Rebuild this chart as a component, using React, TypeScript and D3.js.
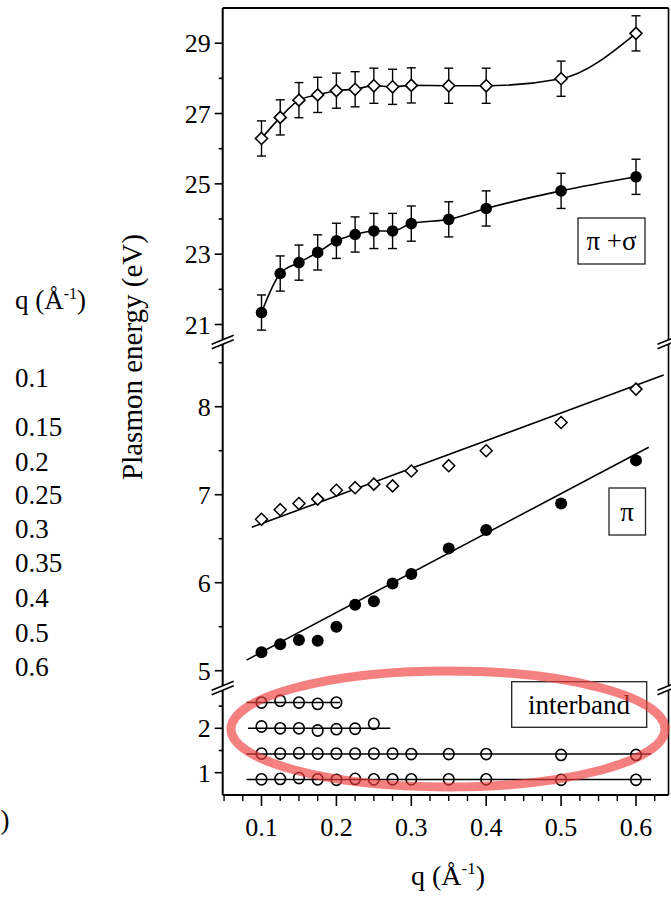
import React from 'react';
import * as d3 from 'd3';

// ---------- data ----------
const qValues = [0.1, 0.125, 0.15, 0.175, 0.2, 0.225, 0.25, 0.275, 0.3, 0.35, 0.4, 0.5, 0.6];
const piSigmaOpen = [26.29, 26.89, 27.38, 27.53, 27.65, 27.69, 27.79, 27.76, 27.8, 27.79, 27.79, 27.99, 29.28];
const piSigmaFilled = [21.34, 22.45, 22.76, 23.05, 23.38, 23.56, 23.66, 23.66, 23.87, 23.99, 24.3, 24.8, 25.2];
const piSigmaErr = 0.5;
const piOpen = [6.72, 6.83, 6.9, 6.95, 7.05, 7.08, 7.12, 7.1, 7.27, 7.33, 7.5, 7.82, 8.2];
const piFilled = [5.21, 5.3, 5.35, 5.34, 5.5, 5.75, 5.79, 5.99, 6.1, 6.39, 6.6, 6.9, 7.39];
const piOpenFitQ = [0.087, 0.637];
const piOpenFitE = [6.63, 8.36];
const piFilledFitQ = [0.08, 0.617];
const piFilledFitE = [5.12, 7.54];

const ib1Q = [0.1, 0.125, 0.15, 0.175, 0.2];
const ib1E = [2.58, 2.62, 2.58, 2.55, 2.58];
const ib2Q = [0.1, 0.125, 0.15, 0.175, 0.2, 0.225, 0.25];
const ib2E = [2.04, 2.0, 2.0, 1.95, 1.98, 1.99, 2.1];
const ib3E = [1.43, 1.43, 1.44, 1.43, 1.43, 1.43, 1.43, 1.43, 1.42, 1.42, 1.42, 1.4, 1.4];
const ib4E = [0.85, 0.86, 0.88, 0.85, 0.84, 0.86, 0.85, 0.85, 0.85, 0.85, 0.85, 0.84, 0.84];
const ibLineQStart = [0.08, 0.082, 0.08, 0.08];
const ibLineQEnd = [0.205, 0.272, 0.62, 0.62];
const ibLineE = [2.58, 2.0, 1.42, 0.845];

const xMajor = [0.1, 0.2, 0.3, 0.4, 0.5, 0.6];
const xTickLabels = ['0.1', '0.2', '0.3', '0.4', '0.5', '0.6'];
const topMajor = [21, 23, 25, 27, 29];
const topMinor = [22, 24, 26, 28];
const midMajor = [5, 6, 7, 8];
const midMinor = [5.5, 6.5, 7.5, 8.5];
const ibMajor = [1, 2];
const ibMinor = [1.5, 2.5];
const sideQLabels = ['0.1', '0.15', '0.2', '0.25', '0.3', '0.35', '0.4', '0.5', '0.6'];

// ---------- layout ----------
const W = 671, H = 897;
const X0 = 222.7, X1 = 668.5, Y0 = 8, Y1 = 795;
const BREAK1 = 342, BREAK2 = 688;
const sideLabelY = [378, 427, 462, 495, 529, 563, 598, 633, 667];
const FONT = "'Liberation Serif', 'Times New Roman', Times, serif";
const TS: React.CSSProperties = { fontFamily: FONT };

const x = d3.scaleLinear().domain([0.1, 0.6]).range([261.5, 636]);
const yTop = d3.scaleLinear().domain([21, 29]).range([324.5, 43.2]);
const yMid = d3.scaleLinear().domain([5, 8]).range([670.7, 406.7]);
const yIb = d3.scaleLinear().domain([1, 2]).range([772.7, 728.3]);

const xMinor = d3.range(0.05, 0.63, 0.025).filter(v => !xMajor.some(m => Math.abs(m - v) < 1e-6));

const diamond = (cx: number, cy: number, r: number) =>
  `M${cx},${cy - r}L${cx + r},${cy}L${cx},${cy + r}L${cx - r},${cy}Z`;

function BreakMark({ cx, cy }: { cx: number; cy: number }) {
  const dx = 11, dy = 4.5, g = 2.2;
  return (
    <g>
      <polygon
        points={`${cx - dx},${cy + dy - g} ${cx + dx},${cy - dy - g} ${cx + dx},${cy - dy + g} ${cx - dx},${cy + dy + g}`}
        fill="#fff"
      />
      <line x1={cx - dx} y1={cy + dy - g} x2={cx + dx} y2={cy - dy - g} stroke="#000" strokeWidth={1.6} />
      <line x1={cx - dx} y1={cy + dy + g} x2={cx + dx} y2={cy - dy + g} stroke="#000" strokeWidth={1.6} />
    </g>
  );
}

export default function App() {
  const curve = d3.line<[number, number]>().curve(d3.curveMonotoneX);
  const topOpenPath = curve(qValues.map((q, i) => [x(q), yTop(piSigmaOpen[i])]));
  const topFilledPath = curve(qValues.map((q, i) => [x(q), yTop(piSigmaFilled[i])]));

  const yTicks: { y: number; major: boolean; label?: string }[] = [
    ...topMajor.map(v => ({ y: yTop(v), major: true, label: String(v) })),
    ...topMinor.map(v => ({ y: yTop(v), major: false })),
    ...midMajor.map(v => ({ y: yMid(v), major: true, label: String(v) })),
    ...midMinor.map(v => ({ y: yMid(v), major: false })),
    ...ibMajor.map(v => ({ y: yIb(v), major: true, label: String(v) })),
    ...ibMinor.map(v => ({ y: yIb(v), major: false })),
  ];

  const ibRows = [
    { q: ib1Q, e: ib1E },
    { q: ib2Q, e: ib2E },
    { q: qValues, e: ib3E },
    { q: qValues, e: ib4E },
  ];

  return (
    <svg width={W} height={H} style={{ position: 'absolute', left: 0, top: 0, background: '#fff', fontFamily: FONT }}>
      <rect x={0} y={0} width={W} height={H} fill="#fff" />

      {/* stray left column */}
      <text style={TS} x={15} y={309} fontSize={27}>q (Å<tspan dy={-10} fontSize={16}>-1</tspan><tspan dy={10}>)</tspan></text>
      {sideQLabels.map((t, i) => (
        <text style={TS} key={t} x={15} y={sideLabelY[i] + 9} fontSize={27}>{t}</text>
      ))}
      <text style={TS} x={0.5} y={829} fontSize={27}>)</text>

      {/* y title */}
      <text style={TS} transform={`translate(142,357) rotate(-90)`} textAnchor="middle" fontSize={29}>Plasmon energy (eV)</text>

      {/* frame */}
      <line x1={X0} y1={Y0} x2={X1} y2={Y0} stroke="#000" strokeWidth={2} />
      <line x1={X0} y1={Y0} x2={X0} y2={Y1} stroke="#000" strokeWidth={2} />
      <line x1={X1} y1={Y0} x2={X1} y2={Y1} stroke="#000" strokeWidth={1.6} />
      <line x1={X0} y1={Y1} x2={X1} y2={Y1} stroke="#000" strokeWidth={2} />

      {/* y ticks */}
      {yTicks.map((t, i) => (
        <g key={i}>
          <line x1={X0 - (t.major ? 8 : 4)} x2={X0} y1={t.y} y2={t.y} stroke="#000" strokeWidth={1.6} />
          {t.label && (
            <text style={TS} x={X0 - 12} y={t.y} dy="0.35em" textAnchor="end" fontSize={26}>{t.label}</text>
          )}
        </g>
      ))}

      {/* x ticks */}
      {xMajor.map((v, i) => (
        <g key={v}>
          <line x1={x(v)} x2={x(v)} y1={Y1} y2={Y1 + 11} stroke="#000" strokeWidth={1.6} />
          <text style={TS} x={x(v)} y={836} textAnchor="middle" fontSize={26}>{xTickLabels[i]}</text>
        </g>
      ))}
      {xMinor.map(v => (
        <line key={v} x1={x(v)} x2={x(v)} y1={Y1} y2={Y1 + 6} stroke="#000" strokeWidth={1.4} />
      ))}

      {/* x title */}
      <text style={TS} x={448} y={885} textAnchor="middle" fontSize={28}>q (Å<tspan dy={-11} fontSize={17}>-1</tspan><tspan dy={11}>)</tspan></text>

      {/* break marks */}
      <BreakMark cx={X0} cy={BREAK1} />
      <BreakMark cx={X0} cy={BREAK2} />
      <BreakMark cx={X1} cy={BREAK1} />
      <BreakMark cx={X1} cy={BREAK2} />

      {/* top panel (pi + sigma) */}
      <path d={topOpenPath || ''} fill="none" stroke="#000" strokeWidth={1.6} />
      <path d={topFilledPath || ''} fill="none" stroke="#000" strokeWidth={1.6} />
      {qValues.map((q, i) => (
        <g key={'eb' + q} stroke="#000" strokeWidth={1.4}>
          {[piSigmaOpen[i], piSigmaFilled[i]].map((e, j) => (
            <g key={j}>
              <line x1={x(q)} x2={x(q)} y1={yTop(e - piSigmaErr)} y2={yTop(e + piSigmaErr)} />
              <line x1={x(q) - 4.5} x2={x(q) + 4.5} y1={yTop(e - piSigmaErr)} y2={yTop(e - piSigmaErr)} />
              <line x1={x(q) - 4.5} x2={x(q) + 4.5} y1={yTop(e + piSigmaErr)} y2={yTop(e + piSigmaErr)} />
            </g>
          ))}
        </g>
      ))}
      {qValues.map((q, i) => (
        <path key={'to' + q} d={diamond(x(q), yTop(piSigmaOpen[i]), 6)} fill="#fff" stroke="#000" strokeWidth={1.6} />
      ))}
      {qValues.map((q, i) => (
        <circle key={'tf' + q} cx={x(q)} cy={yTop(piSigmaFilled[i])} r={5.8} fill="#000" />
      ))}
      <rect x={578} y={218} width={67} height={46} fill="#fff" stroke="#222" strokeWidth={1.3} />
      <text style={TS} x={611.5} y={241} dy="0.35em" textAnchor="middle" fontSize={27}>π +σ</text>

      {/* middle panel (pi) */}
      <line x1={x(piOpenFitQ[0])} y1={yMid(piOpenFitE[0])} x2={x(piOpenFitQ[1])} y2={yMid(piOpenFitE[1])} stroke="#000" strokeWidth={1.6} />
      <line x1={x(piFilledFitQ[0])} y1={yMid(piFilledFitE[0])} x2={x(piFilledFitQ[1])} y2={yMid(piFilledFitE[1])} stroke="#000" strokeWidth={1.6} />
      {qValues.map((q, i) => (
        <path key={'mo' + q} d={diamond(x(q), yMid(piOpen[i]), 6)} fill="#fff" stroke="#000" strokeWidth={1.5} />
      ))}
      {qValues.map((q, i) => (
        <circle key={'mf' + q} cx={x(q)} cy={yMid(piFilled[i])} r={6} fill="#000" />
      ))}
      <rect x={609} y={488} width={36.5} height={47} fill="#fff" stroke="#222" strokeWidth={1.3} />
      <text style={TS} x={627} y={511.5} dy="0.35em" textAnchor="middle" fontSize={27}>π</text>

      {/* interband panel */}
      {ibLineE.map((e, i) => (
        <line key={'il' + i} x1={x(ibLineQStart[i])} x2={x(ibLineQEnd[i])} y1={yIb(e)} y2={yIb(e)} stroke="#000" strokeWidth={1.5} />
      ))}
      {ibRows.map((row, r) =>
        row.q.map((q, i) => (
          <ellipse key={'ib' + r + '-' + q} cx={x(q)} cy={yIb(row.e[i])} rx={5.3} ry={5.6} fill="none" stroke="#000" strokeWidth={1.6} />
        ))
      )}
      <rect x={511.7} y={681.7} width={135} height={45.6} fill="#fff" stroke="#222" strokeWidth={1.3} />
      <text style={TS} x={579} y={704.5} dy="0.35em" textAnchor="middle" fontSize={27}>interband</text>

      {/* red annotation ellipse */}
      <ellipse cx={448} cy={729} rx={217} ry={58} fill="none" stroke="rgb(240,60,60)" strokeOpacity={0.65} strokeWidth={9} />
    </svg>
  );
}
